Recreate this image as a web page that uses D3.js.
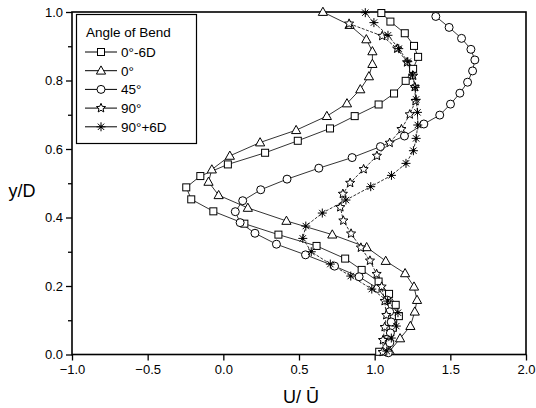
<!DOCTYPE html>
<html>
<head>
<meta charset="utf-8">
<script src="https://cdn.jsdelivr.net/npm/d3@7"></script>
<style>
  html, body { margin: 0; padding: 0; background: #fff; }
  svg { display: block; font-family: "Liberation Sans", Arial, sans-serif; }
</style>
</head>
<body>
<svg id="chart" width="536" height="408"></svg>
<script>
// Velocity profiles U/Ū versus y/D for each bend position, as [U/Ū, y/D] pairs
const seriesNames = ["0°-6D", "0°", "45°", "90°", "90°+6D"];

const bend0minus6D = [
  [1.044,0.997],[1.104,0.972],[1.199,0.938],[1.26,0.901],[1.287,0.869],[1.254,0.834],
  [1.205,0.799],[1.128,0.762],[1.026,0.730],[0.868,0.696],[0.705,0.660],[0.492,0.624],
  [0.276,0.589],[0.030,0.555],[-0.152,0.521],[-0.245,0.488],[-0.212,0.453],[-0.066,0.418],
  [0.139,0.382],[0.364,0.350],[0.616,0.317],[0.805,0.280],[0.914,0.247],[1.026,0.213],
  [1.095,0.177],[1.139,0.145],[1.160,0.112],[1.120,0.078],[1.090,0.045],[1.030,0.008]
];
const bend0 = [
  [0.658,1.000],[0.834,0.962],[0.945,0.920],[0.985,0.885],[0.985,0.848],[0.962,0.812],
  [0.905,0.774],[0.817,0.733],[0.684,0.696],[0.481,0.655],[0.243,0.619],[0.043,0.580],
  [-0.076,0.540],[-0.098,0.504],[-0.031,0.465],[0.162,0.428],[0.417,0.390],[0.720,0.350],
  [0.947,0.313],[1.073,0.273],[1.201,0.237],[1.260,0.198],[1.280,0.159],[1.265,0.125],
  [1.236,0.083],[1.168,0.047],[1.100,0.010]
];
const bend45 = [
  [1.404,0.987],[1.492,0.955],[1.574,0.923],[1.636,0.891],[1.662,0.860],[1.647,0.828],
  [1.614,0.795],[1.563,0.763],[1.501,0.731],[1.430,0.699],[1.325,0.673],[1.197,0.638],
  [1.038,0.607],[0.851,0.575],[0.631,0.544],[0.421,0.512],[0.247,0.481],[0.128,0.449],
  [0.079,0.417],[0.111,0.385],[0.209,0.354],[0.351,0.322],[0.543,0.291],[0.735,0.258],
  [0.897,0.227],[1.020,0.193],[1.082,0.159],[1.099,0.125],[1.109,0.095],[1.104,0.063],
  [1.100,0.034],[1.090,0.005]
];
const bend90 = [
  [0.831,0.966],[1.050,0.930],[1.149,0.893],[1.214,0.853],[1.254,0.814],[1.265,0.781],
  [1.270,0.740],[1.232,0.701],[1.177,0.658],[1.099,0.618],[1.015,0.580],[0.927,0.541],
  [0.838,0.501],[0.790,0.469],[0.773,0.430],[0.793,0.391],[0.844,0.353],[0.909,0.312],
  [0.969,0.274],[1.013,0.235],[1.046,0.198],[1.066,0.156],[1.077,0.115],[1.066,0.080],
  [1.055,0.042],[1.053,0.007]
];
const bend90plus6D = [
  [0.938,0.998],[0.995,0.969],[1.088,0.932],[1.159,0.893],[1.219,0.855],[1.250,0.816],
  [1.268,0.780],[1.274,0.745],[1.283,0.707],[1.285,0.670],[1.274,0.631],[1.256,0.595],
  [1.207,0.558],[1.111,0.523],[0.974,0.490],[0.810,0.451],[0.654,0.413],[0.545,0.375],
  [0.525,0.339],[0.581,0.300],[0.707,0.264],[0.842,0.229],[0.981,0.191],[1.086,0.156],
  [1.154,0.122],[1.143,0.083],[1.110,0.048],[1.080,0.010]
];

const xTicks = [-1.0, -0.5, 0.0, 0.5, 1.0, 1.5, 2.0];
const yTicks = [0.0, 0.2, 0.4, 0.6, 0.8, 1.0];
const yMinorTicks = [0.1, 0.3, 0.5, 0.7, 0.9];

const svg = d3.select("#chart");
const m = { left: 72, right: 526, top: 12, bottom: 354.5 };

const x = d3.scaleLinear().domain([-1, 2]).range([m.left, m.right]);
const y = d3.scaleLinear().domain([0, 1]).range([m.bottom, m.top]);

// Axes
const fmt = d3.format(".1f");
const xAxis = svg.append("g")
  .attr("transform", `translate(0,${m.bottom})`)
  .call(d3.axisBottom(x).tickValues(xTicks).tickFormat(fmt).tickSize(6).tickPadding(4));
const yAxis = svg.append("g")
  .attr("transform", `translate(${m.left},0)`)
  .call(d3.axisLeft(y).tickValues(yTicks).tickFormat(fmt).tickSize(6).tickPadding(3));
svg.append("g")
  .attr("transform", `translate(${m.left},0)`)
  .call(d3.axisLeft(y).tickValues(yMinorTicks).tickFormat("").tickSize(4))
  .select(".domain").remove();

[xAxis, yAxis].forEach(g => {
  g.select(".domain").remove();
  g.selectAll("line").attr("stroke", "#000").attr("stroke-width", 1.3);
  g.selectAll("text").attr("fill", "#000").style("font-size", "13px")
    .style("font-family", "'Liberation Sans', Arial, sans-serif");
});
svg.selectAll(".tick line").attr("stroke", "#000").attr("stroke-width", 1.3);

// Plot frame
svg.append("rect")
  .attr("x", m.left).attr("y", m.top)
  .attr("width", m.right - m.left).attr("height", m.bottom - m.top)
  .attr("fill", "none").attr("stroke", "#000").attr("stroke-width", 1.6);

// Axis titles
svg.append("text").attr("x", 22).attr("y", 197).attr("text-anchor", "middle")
  .style("font-size", "18px").text("y/D");
svg.append("text").attr("x", 301).attr("y", 403).attr("text-anchor", "middle")
  .style("font-size", "18px").text("U/ Ū");

// Marker shapes
function starPath(r) {
  const pts = [];
  for (let i = 0; i < 10; i++) {
    const a = -Math.PI / 2 + i * Math.PI / 5;
    const rr = i % 2 === 0 ? r : r * 0.45;
    pts.push([rr * Math.cos(a), rr * Math.sin(a)]);
  }
  return "M" + pts.map(p => p[0].toFixed(2) + "," + p[1].toFixed(2)).join("L") + "Z";
}
function asteriskPath(r) {
  let d = "";
  for (let i = 0; i < 4; i++) {
    const a = i * Math.PI / 4;
    const dx = r * Math.cos(a), dy = r * Math.sin(a);
    d += `M${(-dx).toFixed(2)},${(-dy).toFixed(2)}L${dx.toFixed(2)},${dy.toFixed(2)}`;
  }
  return d;
}
const markers = {
  square: g => g.append("rect").attr("x", -3.5).attr("y", -3.5).attr("width", 7).attr("height", 7)
    .attr("fill", "#fff").attr("stroke", "#000").attr("stroke-width", 1),
  triangle: g => g.append("path").attr("d", "M0,-4.8L4.6,3.4L-4.6,3.4Z")
    .attr("fill", "#fff").attr("stroke", "#000").attr("stroke-width", 1),
  circle: g => g.append("circle").attr("r", 4)
    .attr("fill", "#fff").attr("stroke", "#000").attr("stroke-width", 1),
  star: g => g.append("path").attr("d", starPath(4.8))
    .attr("fill", "#fff").attr("stroke", "#000").attr("stroke-width", 1),
  asterisk: g => {
    g.append("path").attr("d", asteriskPath(4.5)).attr("stroke", "#000").attr("stroke-width", 1);
    g.append("circle").attr("r", 1.4).attr("fill", "#000");
  }
};

const series = [
  { name: seriesNames[0], data: bend0minus6D, marker: "square", dash: null },
  { name: seriesNames[1], data: bend0, marker: "triangle", dash: null },
  { name: seriesNames[2], data: bend45, marker: "circle", dash: null },
  { name: seriesNames[3], data: bend90, marker: "star", dash: "3,1.5" },
  { name: seriesNames[4], data: bend90plus6D, marker: "asterisk", dash: "3,1.5" }
];

const line = d3.line().x(d => x(d[0])).y(d => y(d[1]));
const plot = svg.append("g");

series.forEach(s => {
  plot.append("path").datum(s.data).attr("d", line)
    .attr("fill", "none").attr("stroke", "#000").attr("stroke-width", 0.8)
    .attr("stroke-dasharray", s.dash);
});
series.forEach(s => {
  plot.selectAll(null).data(s.data).enter().append("g")
    .attr("transform", d => `translate(${x(d[0])},${y(d[1])})`)
    .each(function () { markers[s.marker](d3.select(this)); });
});

// Legend
const lg = svg.append("g");
lg.append("rect").attr("x", 76.5).attr("y", 14.5).attr("width", 120).attr("height", 129)
  .attr("fill", "#fff").attr("stroke", "#000").attr("stroke-width", 1.2);
lg.append("text").attr("x", 86).attr("y", 37).style("font-size", "13.5px").text("Angle of Bend");
series.forEach((s, i) => {
  const cy = 52 + i * 18.7;
  const row = lg.append("g");
  row.append("line").attr("x1", 85).attr("x2", 117).attr("y1", cy).attr("y2", cy)
    .attr("stroke", "#000").attr("stroke-width", 1);
  const mg = row.append("g").attr("transform", `translate(101,${cy})`);
  markers[s.marker](mg);
  row.append("text").attr("x", 121).attr("y", cy + 5).style("font-size", "13.5px").text(s.name);
});
</script>
</body>
</html>
